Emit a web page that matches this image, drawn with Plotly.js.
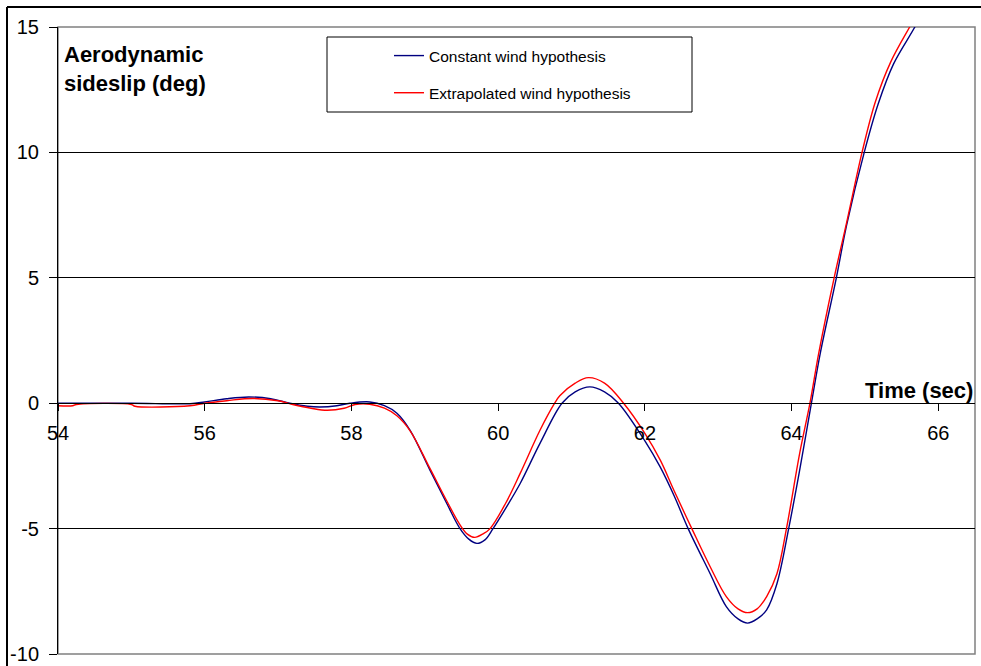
<!DOCTYPE html>
<html>
<head>
<meta charset="utf-8">
<script src="https://cdn.plot.ly/plotly-3.0.1.min.js"></script>
<style>
  html, body { margin: 0; padding: 0; background: #ffffff; }
  #chart { width: 981px; height: 666px; }
</style>
</head>
<body>
<div id="chart"></div>
<script>
// Time (sec) and aerodynamic sideslip (deg)
var tConst = [54, 55.0, 55.8, 56.0, 56.3, 56.6, 56.9, 57.16, 57.4, 57.57, 57.8, 57.98, 58.25, 58.45, 58.62, 58.8,
  59.07, 59.3, 59.48, 59.6, 59.71, 59.82, 59.93, 60.1, 60.3, 60.57, 60.87, 61.05, 61.25, 61.45, 61.64,
  62.0, 62.21, 62.4, 62.59, 62.89, 63.11, 63.27, 63.40, 63.53, 63.66, 63.8, 63.96, 64.11, 64.27, 64.39,
  64.61, 64.75, 64.99, 65.18, 65.39, 65.68, 65.8];
var sideslipConst = [0, 0, -0.02, 0.05, 0.18, 0.25, 0.18, 0, -0.12, -0.15, -0.1, 0, 0.05, -0.1, -0.4, -1.08,
  -2.67, -4.0, -5.0, -5.42, -5.59, -5.45, -5.0, -4.2, -3.2, -1.6, 0, 0.45, 0.65, 0.45, 0,
  -1.5, -2.55, -3.7, -5.0, -6.8, -8.11, -8.6, -8.77, -8.6, -8.24, -7.2, -5.0, -2.67, 0, 1.98,
  5, 7.1, 10, 11.93, 13.53, 15, 15.7];

var tExtrap = [54, 54.2, 54.25, 55.0, 55.05, 55.8, 56.0, 56.3, 56.65, 57.0, 57.2, 57.45, 57.67, 57.9, 58.05, 58.25,
  58.45, 58.62, 58.8, 59.07, 59.3, 59.48, 59.58, 59.68, 59.8, 59.89, 60.1, 60.3, 60.57, 60.77, 60.84,
  61.05, 61.23, 61.45, 61.71, 62.0, 62.21, 62.4, 62.64, 62.89, 63.11, 63.27, 63.40, 63.53, 63.66, 63.8,
  63.93, 64.11, 64.25, 64.37, 64.58, 64.75, 64.96, 65.14, 65.35, 65.61, 65.75];
var sideslipExtrap = [-0.1, -0.1, -0.05, -0.05, -0.12, -0.1, 0.0, 0.1, 0.19, 0.1, -0.05, -0.2, -0.28, -0.2, -0.05, -0.04,
  -0.2, -0.5, -1.1, -2.6, -3.9, -4.85, -5.22, -5.35, -5.2, -5.0, -4.0, -2.8, -1.08, 0, 0.3,
  0.8, 1.02, 0.8, 0, -1.2, -2.27, -3.5, -5.0, -6.52, -7.71, -8.2, -8.35, -8.2, -7.71, -6.8,
  -5.0, -2.0, 0, 2.0, 5, 7.2, 10, 12.0, 13.6, 15, 15.7];

var seriesNames = ["Constant wind hypothesis", "Extrapolated wind hypothesis"];
var xTickVals = [54, 56, 58, 60, 62, 64, 66];
var yTickVals = [-10, -5, 0, 5, 10, 15];

var FONT = "Liberation Sans, Arial, Helvetica, sans-serif";

var traces = [
  { x: tConst, y: sideslipConst, type: "scatter", mode: "lines", name: seriesNames[0],
    legendgroup: "a", line: { color: "#000080", width: 1.4, shape: "spline", smoothing: 1 } },
  { x: tExtrap, y: sideslipExtrap, type: "scatter", mode: "lines", name: seriesNames[1],
    legendgroup: "b", line: { color: "#ff0000", width: 1.4, shape: "spline", smoothing: 1 } }
];

var L = 58, T = 27, W = 917, H = 627;
function px(p) { return (p - L) / W; }
function py(p) { return (T + H - p) / H; }

var layout = {
  width: 981, height: 666,
  margin: { l: L, r: 981 - L - W, t: T, b: 666 - T - H, pad: 0 },
  paper_bgcolor: "#ffffff", plot_bgcolor: "#ffffff",
  font: { family: FONT, size: 20, color: "#000000" },
  showlegend: true,
  legend: {
    x: px(389), y: py(39), xanchor: "left", yanchor: "top",
    bgcolor: "rgba(0,0,0,0)", borderwidth: 0,
    font: { family: FONT, size: 15.5, color: "#000000" },
    traceorder: "grouped", tracegroupgap: 14, itemwidth: 30
  },
  xaxis: {
    range: [54, 66.5], tickvals: xTickVals, ticktext: xTickVals.map(String),
    anchor: "free", position: 0.4,
    showline: true, linecolor: "#000000", linewidth: 1,
    ticks: "outside", ticklen: 7, tickcolor: "#000000", tickwidth: 1,
    showgrid: false, zeroline: false, automargin: false,
    ticklabelstandoff: 5,
    tickfont: { family: FONT, size: 20, color: "#000000" }
  },
  yaxis: {
    range: [-10, 15], tickvals: yTickVals, ticktext: yTickVals.map(String),
    showline: true, linecolor: "#000000", linewidth: 1,
    ticks: "outside", ticklen: 8, tickcolor: "#000000", tickwidth: 1,
    showgrid: true, gridcolor: "#000000", gridwidth: 1,
    zeroline: false, automargin: false,
    ticklabelstandoff: 6,
    tickfont: { family: FONT, size: 20, color: "#000000" }
  },
  shapes: [
    { type: "rect", xref: "paper", yref: "paper", x0: 0, x1: 1, y0: 0, y1: 1,
      line: { color: "#808080", width: 1.5 }, layer: "between" },
    { type: "rect", xref: "paper", yref: "paper", x0: px(327), x1: px(692), y0: py(112), y1: py(37),
      line: { color: "#000000", width: 1 }, fillcolor: "#ffffff", layer: "above" },
    { type: "line", xref: "paper", yref: "paper", x0: px(7), x1: px(990), y0: py(7), y1: py(7),
      line: { color: "#000000", width: 2 } },
    { type: "line", xref: "paper", yref: "paper", x0: px(7), x1: px(7), y0: py(7), y1: py(680),
      line: { color: "#000000", width: 2 } }
  ],
  annotations: [
    { text: "<b>Aerodynamic<br>sideslip (deg)</b>", xref: "paper", yref: "paper",
      x: px(62), y: py(40), xanchor: "left", yanchor: "top", align: "left", showarrow: false,
      font: { family: FONT, size: 22, color: "#000000" } },
    { text: "<b>Time (sec)</b>", xref: "paper", yref: "paper",
      x: px(975), y: py(390), xanchor: "right", yanchor: "middle", showarrow: false,
      font: { family: FONT, size: 22, color: "#000000" } }
  ]
};

Plotly.newPlot("chart", traces, layout, { displayModeBar: false, staticPlot: true });
</script>
</body>
</html>
